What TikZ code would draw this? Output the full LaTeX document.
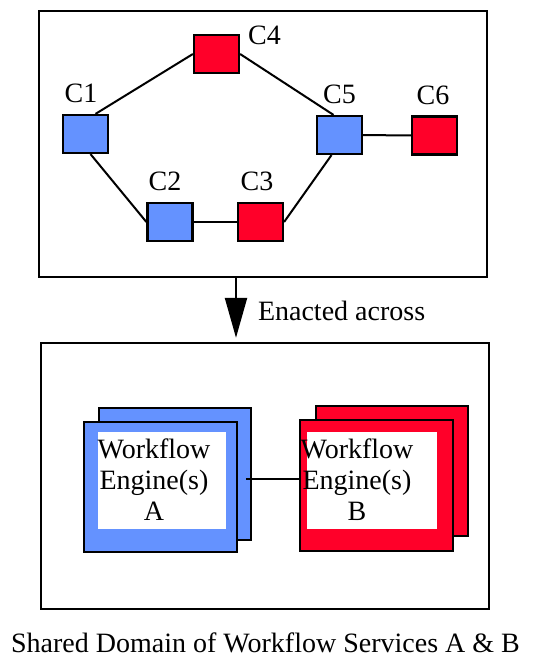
\documentclass[tikz,border=0pt]{standalone}
\usepackage{fontspec}
\setmainfont{Liberation Serif}
\usetikzlibrary{arrows.meta}
\definecolor{compblue}{RGB}{100,146,255}
\definecolor{compred}{RGB}{255,0,41}

\begin{document}
\begin{tikzpicture}[x=1pt, y=-1pt, line width=2pt,
	comp/.style={draw, line width=2.2pt, minimum width=45pt, minimum height=38pt, inner sep=0pt},
	lbl/.style={font=\fontsize{28}{31}\selectfont, inner sep=2pt, label distance=8pt},
	frame/.style={draw, line width=2.4pt, minimum width=448pt, minimum height=266pt},
	engine/.style={draw, line width=2.6pt, inner sep=0pt},
	txt/.style={font=\fontsize{28}{31}\selectfont, align=center, inner sep=0pt},
	plain/.style={font=\fontsize{28}{31}\selectfont, inner sep=0pt}]
	\useasboundingbox (0,0) rectangle (541,657);
	% composition of services
	\node (domain) at (263,144) [frame] {};
	\node (c1) at (85.5,134) [comp, fill=compblue, label={[lbl, xshift=-4.5pt]above:C1}] {};
	\node (c2) at (170,222) [comp, fill=compblue, label={[lbl, xshift=-5pt]above:C2}] {};
	\node (c3) at (260.5,222) [comp, fill=compred, label={[lbl, xshift=-3.5pt]above:C3}] {};
	\node (c4) at (216.5,54) [comp, fill=compred] {};
	\node (c5) at (339.5,135) [comp, fill=compblue, label={[lbl]above:C5}] {};
	\node (c6) at (434.5,135.5) [comp, fill=compred, label={[lbl, xshift=-1.5pt]above:C6}] {};
	\node (c4lbl) [lbl, anchor=base west, inner sep=0pt] at ([xshift=7pt, yshift=-11pt]c4.north east) {C4};
	\draw ([xshift=10pt]c1.north) -- (c4.west);
	\draw (c4.east) -- ([xshift=-6pt]c5.north);
	\draw ([xshift=5pt]c1.south) -- (c2.west);
	\draw (c2.east) -- (c3.west);
	\draw (c3.east) -- ([xshift=-8pt]c5.south);
	\draw (c5) -- (c6);
	% enactment
	\node (shared) at (265,476) [frame] {};
	\coordinate (from) at (236,278);
	\draw[line width=2.2pt, -{Triangle[length=40pt, width=22pt]}, shorten >=4pt] (from) -- (from |- shared.north);
	\node (enacted) at (257,320) [plain, anchor=base west] {Enacted across};
	% engines
	\node (backA) at (175,474) [engine, fill=compblue, minimum width=152pt, minimum height=132pt] {};
	\node (frontA) at (160.5,487) [engine, fill=compblue, minimum width=153pt, minimum height=130pt] {};
	\node (whiteA) at (162,480.5) [fill=white, minimum width=128pt, minimum height=97pt, inner sep=0pt] {};
	\node (backB) at (392,471) [engine, fill=compred, minimum width=152pt, minimum height=130pt] {};
	\node (frontB) at (376.5,485.5) [engine, fill=compred, minimum width=153pt, minimum height=131pt] {};
	\node (whiteB) at (372,480.5) [fill=white, minimum width=130pt, minimum height=97pt, inner sep=0pt] {};
	\node (engA) at (154,480) [txt] {Workflow\\Engine(s)\\A};
	\node (engB) at (357,480) [txt] {Workflow\\Engine(s)\\B};
	\draw ([xshift=8pt, yshift=8pt]frontA.east) -- ([yshift=6.5pt]frontB.west);
	\node (caption) at (265.5,652) [plain, anchor=base] {Shared Domain of Workflow Services A \& B};
\end{tikzpicture}
\end{document}
